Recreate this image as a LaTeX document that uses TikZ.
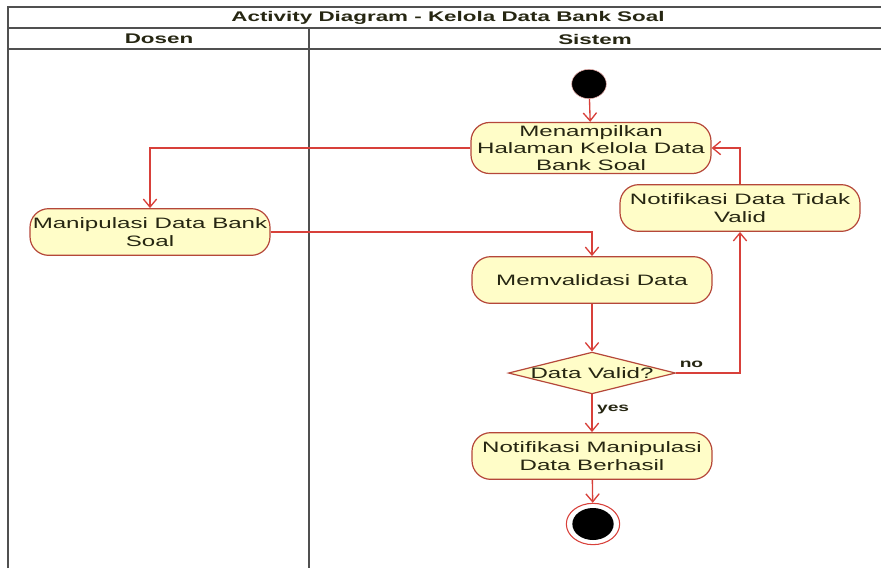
\documentclass[tikz,border=0pt]{standalone}
\usepackage{fontspec}
\setmainfont[FakeStretch=1.6]{Liberation Sans}
\usetikzlibrary{arrows.meta,positioning,shapes.geometric}
\definecolor{flowred}{HTML}{D8403A}
\definecolor{boxedge}{HTML}{B5473A}
\definecolor{boxfill}{HTML}{FFFDC8}
\definecolor{laneline}{HTML}{505050}
\definecolor{ink}{HTML}{262612}

\begin{document}
\begin{tikzpicture}[x=0.75pt,y=-0.75pt,font=\fontsize{11.3}{13}\selectfont,text=ink,
  act/.style={draw=boxedge,fill=boxfill,line width=0.9pt,rounded corners=14pt,
              minimum width=180pt,minimum height=35pt,align=center,inner sep=2pt},
  decide/.style={diamond,draw=boxedge,fill=boxfill,line width=0.9pt,
                 shape aspect=4,inner sep=0pt},
  flow/.style={draw=flowred,line width=1pt,-{Straight Barb[length=6pt,width=10pt]}},
  lane/.style={draw=laneline,line width=1.2pt},
  guard/.style={font=\fontsize{9}{11}\bfseries}]
  \useasboundingbox (0,0) rectangle (881,572);
  % swimlane frame
  \draw[lane] (8,568) -- (8,7) -- (881,7);
  \draw[lane] (8,28) -- (881,28);
  \draw[lane] (8,49) -- (881,49);
  \draw[lane] (309,28) -- (309,568);
  \node[font=\fontsize{10.5}{13}\bfseries] (title) at (448,18) {Activity Diagram - Kelola Data Bank Soal};
  \node[font=\fontsize{10.5}{13}\bfseries] (dosen) at (159,39) {Dosen};
  \node[font=\fontsize{10.5}{13}\bfseries] (sistem) at (595,39) {Sistem};
  % activities
  \node[ellipse,fill=black,draw=flowred!40,minimum width=26pt,minimum height=22pt] (start) at (589,84) {};
  \node[act] (show) at (591,148) {Menampilkan\\Halaman Kelola Data\\Bank Soal};
  \node[act] (invalid) at (740,208) {Notifikasi Data Tidak\\Valid};
  \node[act] (edit) at (150,232) {Manipulasi Data Bank\\Soal};
  \node[act] (check) at (592,280) {Memvalidasi Data};
  \node[decide] (valid) at (592,373) {Data Valid?};
  \node[act] (notify) at (592,456) {Notifikasi Manipulasi\\Data Berhasil};
  \node[ellipse,draw=flowred,fill=white,line width=0.8pt,minimum width=40pt,minimum height=31pt] (end) at (593,524) {};
  \node[ellipse,fill=black,minimum width=31pt,minimum height=24pt] (endcore) at (end.center) {};
  % flows
  \draw[flow] (start) -- (show);
  \draw[flow] (show.west) -| (edit.north);
  \draw[flow] (edit.east) -| (check.north);
  \draw[flow] (check) -- (valid);
  \draw[flow] (valid.east) -| node[pos=0.12,above,guard] {no} (invalid.south);
  \draw[flow] (invalid.north) |- (show.east);
  \draw[flow] (valid) -- node[right,pos=0.4,guard] {yes} (notify);
  \draw[flow] (notify) -- (end);
\end{tikzpicture}
\end{document}
